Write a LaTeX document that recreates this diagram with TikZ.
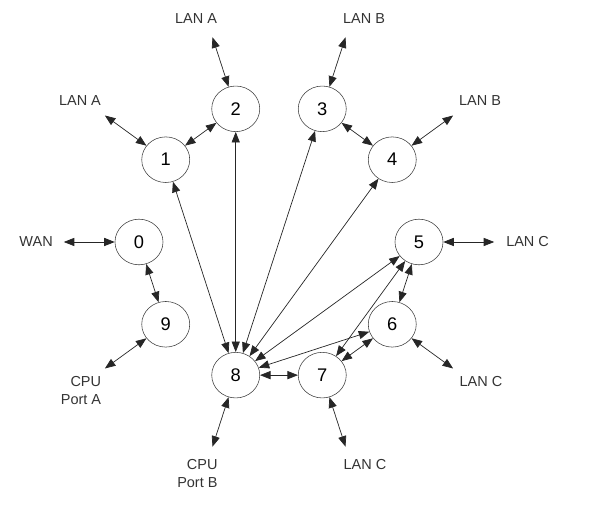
\documentclass[tikz,border=0pt]{standalone}
\usepackage{fontspec}
\setmainfont{Liberation Sans}
\usetikzlibrary{arrows.meta,shapes.geometric}

\begin{document}
\begin{tikzpicture}[
    port/.style={draw=black!75, ellipse, minimum width=1.2cm, minimum height=1.14cm, inner sep=0pt, font=\fontsize{13}{15}\selectfont},
    lan/.style={text=black!80, inner sep=0pt, font=\fontsize{10.3}{12.8}\selectfont},
    link/.style={{Triangle[length=7.5pt,width=5.8pt]}-{Triangle[length=7.5pt,width=5.8pt]}, line width=0.5pt, draw=black!85}
]
\useasboundingbox (-6.975,-6.75) rectangle (7.775,6.05);

% ports round the ring
\foreach \n/\a in {0/180,1/144,2/108,3/72,4/36,5/0,6/-36,7/-72,8/-108,9/-144}{
    \node[port] (p\n) at (\a:3.5) {\n};
    \coordinate (e\n) at (\a:5.38);
}

% outside connections
\node[lan] (lanA1) at (-4.975,3.525) {LAN A};
\node[lan] (lanA2) at (-2.075,5.575) {LAN A};
\node[lan] (lanB3) at (2.125,5.575) {LAN B};
\node[lan] (lanB4) at (5.025,3.525) {LAN B};
\node[lan, anchor=east] (wan) at (-5.65,0) {WAN};
\node[lan, anchor=west] (lanC5) at (5.675,0) {LAN C};
\node[lan] (lanC6) at (5.05,-3.5) {LAN C};
\node[lan] (lanC7) at (2.15,-5.575) {LAN C};
\node[lan, align=right] (cpuA) at (-4.95,-3.72) {CPU\\Port A};
\node[lan, align=right] (cpuB) at (-2.04,-5.8) {CPU\\Port B};

\foreach \n in {0,...,9}
    \draw[link] (p\n) -- (e\n);

% links between ports
\foreach \a/\b in {1/2,3/4,0/9,5/6,6/7,7/8,8/1,8/2,8/3,8/4,8/5,8/6,7/5}
    \draw[link] (p\a) -- (p\b);
\end{tikzpicture}
\end{document}
